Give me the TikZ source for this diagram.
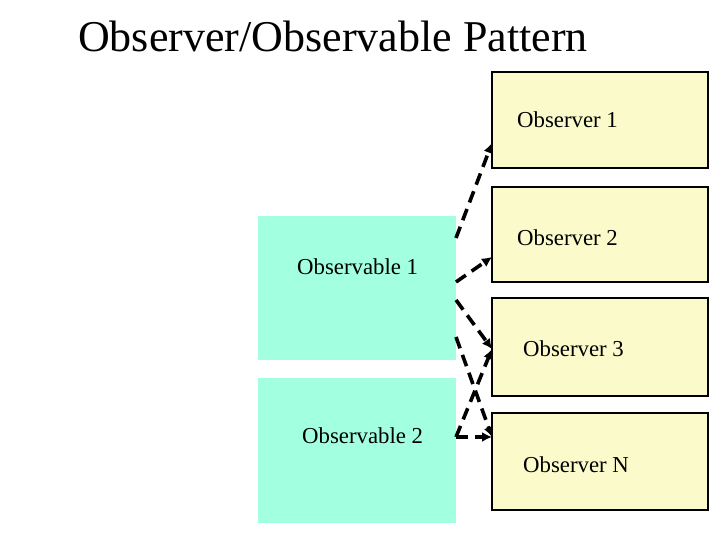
\documentclass[tikz,border=0pt]{standalone}
\usepackage{fontspec}
\setmainfont{Liberation Serif}
\usepackage{tikz}
\usetikzlibrary{arrows.meta}
\definecolor{aqua}{RGB}{162, 255, 224}
\definecolor{cream}{RGB}{250, 250, 202}

\begin{document}
\begin{tikzpicture}[x=1pt, y=-1pt,
  observer/.style={draw, line width=1.3pt, fill=cream, minimum width=216pt,
    inner sep=0pt, outer sep=0pt},
  observable/.style={fill=aqua, minimum width=198pt, inner sep=0pt, outer sep=0pt},
  tag/.style={anchor=west, inner sep=0pt, font=\fontsize{22.8}{26}\selectfont},
  notify/.style={line width=3.6pt, dash pattern=on 12pt off 7pt,
    -{Latex[length=10pt, width=10pt]}}]

  \useasboundingbox (0, 0) rectangle (720, 540);

  \node[anchor=west, inner sep=0pt, font=\fontsize{44}{50}\selectfont] (title)
    at (78, 36) {Observer/Observable Pattern};

  % observers on the right
  \node[observer, minimum height=96pt] (obs1) at (600, 120) {};
  \node[observer, minimum height=95pt] (obs2) at (600, 234.5) {};
  \node[observer, minimum height=98pt] (obs3) at (600, 347) {};
  \node[observer, minimum height=97pt] (obsN) at (600, 461.5) {};

  % observables on the left
  \node[observable, minimum height=144pt] (obl1) at (357, 288) {};
  \node[observable, minimum height=145pt] (obl2) at (357, 450.5) {};

  \node[tag] (t1) at (517, 120) {Observer 1};
  \node[tag] (t2) at (517, 238) {Observer 2};
  \node[tag] (t3) at (523, 349) {Observer 3};
  \node[tag] (tN) at (523, 465) {Observer N};
  \node[tag] (u1) at (297, 267) {Observable 1};
  \node[tag] (u2) at (302, 436) {Observable 2};

  \draw[notify] ([yshift=-22pt]obl1.north east) -- ([yshift=25pt]obs1.south west);
  \draw[notify] ([yshift=-66pt]obl1.north east) -- ([yshift=25pt]obs2.south west);
  \draw[notify] ([yshift=-84pt]obl1.north east) -- ([yshift=47pt]obs3.south west);
  \draw[notify] ([yshift=-121pt]obl1.north east) -- ([yshift=-24pt]obsN.north west);
  \draw[notify] ([yshift=-59pt]obl2.north east) -- ([yshift=47pt]obs3.south west);
  \draw[notify] ([yshift=-59pt]obl2.north east) -- ([yshift=-24pt]obsN.north west);

\end{tikzpicture}
\end{document}
